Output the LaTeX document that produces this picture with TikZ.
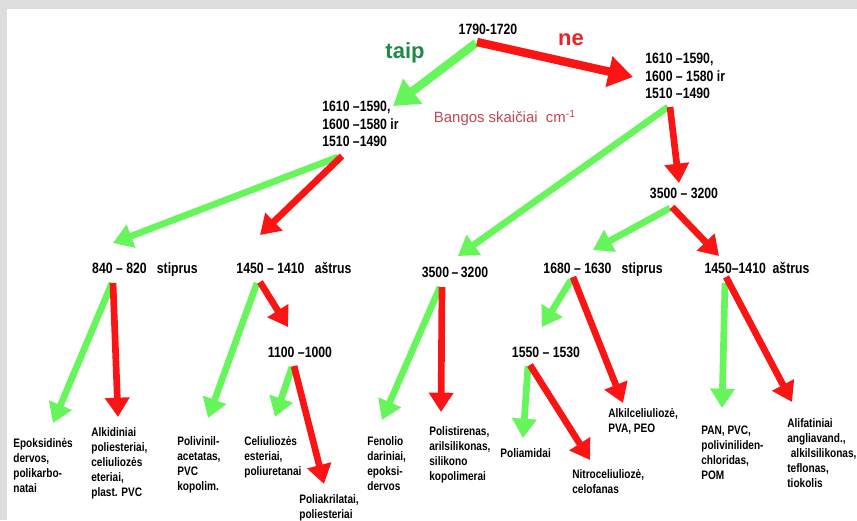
\documentclass[tikz,border=0pt]{standalone}
\usepackage{fontspec}
\setmainfont{Liberation Sans}
\newfontfamily\narrowsans[FakeStretch=0.82]{Liberation Sans}
\usetikzlibrary{arrows.meta,calc}

\definecolor{arrowgreen}{RGB}{102,245,90}
\definecolor{arrowred}{RGB}{250,20,20}
\definecolor{taipgreen}{RGB}{30,140,70}
\definecolor{nered}{RGB}{235,35,40}
\definecolor{bangosred}{RGB}{195,70,80}
\definecolor{framegray}{RGB}{221,221,221}

\tikzset{
  band/.style={font=\narrowsans\bfseries\fontsize{8.5}{10}\selectfont, inner sep=0pt, anchor=base},
  bandlist/.style={font=\narrowsans\bfseries\fontsize{8.5}{10}\selectfont, inner sep=0pt, anchor=north west, align=left},
  polymer/.style={font=\narrowsans\bfseries\fontsize{7}{8.5}\selectfont, inner sep=0pt, anchor=north west, align=left},
  yesarrow/.style={draw=arrowgreen, line width=3.8pt, -{Triangle[width=13.5pt,length=11pt]}},
  noarrow/.style={draw=arrowred, line width=3.8pt, -{Triangle[width=13.5pt,length=11pt]}},
  bigarrow/.style={line width=4.8pt, -{Triangle[width=17pt,length=14pt]}}
}

\begin{document}
\begin{tikzpicture}[x=0.02cm,y=-0.02cm]
    % frame
    \fill[framegray] (0,0) rectangle (857,520);
    \fill[white] (7,9) rectangle (857,520);

    % bands
    \node[band] (top) at (488,34) {1790-1720};
    \node[font=\bfseries\fontsize{12.5}{14}\selectfont, text=taipgreen, inner sep=0pt, anchor=base] (taip) at (405,58) {taip};
    \node[font=\bfseries\fontsize{12.5}{14}\selectfont, text=nered, inner sep=0pt, anchor=base] (ne) at (571,45) {ne};
    \node[bandlist] (left1610) at (322,101) {1610 –1590,\\1600 –1580 ir\\1510 –1490};
    \node[bandlist] (right1610) at (645,53) {1610 –1590,\\1600 – 1580 ir\\1510 –1490};
    \node[font=\fontsize{8.5}{10}\selectfont, text=bangosred, inner sep=0pt, anchor=base] (bangos) at (505,122) {Bangos skaičiai\ \ cm\textsuperscript{-1}};
    \node[band] (r840) at (145,273) {840 – 820\ \ \ stiprus};
    \node[band] (r1450a) at (294,273) {1450 – 1410\ \ \ aštrus};
    \node[band] (r3500a) at (455,277) {3500\,–\,3200};
    \node[band] (r3500b) at (684,198) {3500 – 3200};
    \node[band] (r1680) at (603,273) {1680 – 1630\ \ \ stiprus};
    \node[band] (r1450b) at (757,273) {1450–1410\ \ aštrus};
    \node[band] (r1550) at (546,357) {1550 – 1530};
    \node[band] (r1100) at (300,357) {1100 –1000};

    % polymers
    \node[polymer] (epox) at (13,438) {Epoksidinės\\dervos,\\polikarbo-\\natai};
    \node[polymer] (alkid) at (91,427) {Alkidiniai\\poliesteriai,\\celiuliozės\\eteriai,\\plast. PVC};
    \node[polymer] (poliv) at (177,436) {Polivinil-\\acetatas,\\PVC\\kopolim.};
    \node[polymer] (celes) at (244,436) {Celiuliozės\\esteriai,\\poliuretanai};
    \node[polymer] (poliakr) at (299,494) {Poliakrilatai,\\poliesteriai};
    \node[polymer] (fenol) at (367,436) {Fenolio\\dariniai,\\epoksi-\\dervos};
    \node[polymer] (polist) at (429,426) {Polistirenas,\\arilsilikonas,\\silikono\\kopolimerai};
    \node[polymer] (poliam) at (500,448) {Poliamidai};
    \node[polymer] (nitro) at (572,469) {Nitroceliuliozė,\\celofanas};
    \node[polymer] (alkilc) at (608,408) {Alkilceliuliozė,\\PVA, PEO};
    \node[polymer] (pan) at (701,426) {PAN, PVC,\\poliviniliden-\\chloridas,\\POM};
    \node[polymer] (alifat) at (787,418) {Alifatiniai\\angliavand.,\\\hspace{2pt}alkilsilikonas,\\teflonas,\\tiokolis};

    % arrows
    \draw[yesarrow, bigarrow] ($(top.base)+(-12,9)$) -- ($(left1610.north west)+(71,5)$);
    \draw[noarrow, bigarrow] ($(top.base)+(-11,8)$) -- ($(right1610.north west)+(-12,24)$);
    \draw[yesarrow] ($(left1610.north west)+(16,56)$) -- ($(r840.base)+(-32,-30)$);
    \draw[noarrow] ($(left1610.north west)+(20,55)$) -- ($(r1450a.base)+(-34,-38)$);
    \draw[yesarrow] ($(right1610.north west)+(23,54)$) -- ($(r3500a.base)+(3,-21)$);
    \draw[noarrow] ($(right1610.north west)+(25,54)$) -- ($(r3500b.base)+(-5,-15)$);
    \draw[yesarrow] ($(r3500b.base)+(-14,10)$) -- ($(r1680.base)+(-10,-23)$);
    \draw[noarrow] ($(r3500b.base)+(-12,9)$) -- ($(r1450b.base)+(-38,-17)$);

    \draw[yesarrow] ($(r840.base)+(-33,10)$) -- ($(epox.north west)+(40,-15)$);
    \draw[noarrow] ($(r840.base)+(-32,10)$) -- ($(alkid.north west)+(27,-10)$);
    \draw[yesarrow] ($(r1450a.base)+(-37,10)$) -- ($(poliv.north west)+(31,-18)$);
    \draw[noarrow] ($(r1450a.base)+(-34,9)$) -- ($(r1100.base)+(-12,-30)$);
    \draw[yesarrow] ($(r1100.base)+(-8,10)$) -- ($(celes.north west)+(31,-19)$);
    \draw[noarrow] ($(r1100.base)+(-6,9)$) -- ($(poliakr.north west)+(25,-10)$);
    \draw[yesarrow] ($(r3500a.base)+(-15,10)$) -- ($(fenol.north west)+(15,-16)$);
    \draw[noarrow] ($(r3500a.base)+(-13,10)$) -- ($(polist.north west)+(12,-14)$);
    \draw[yesarrow] ($(r1680.base)+(-32,7)$) -- ($(r1550.base)+(-4,-30)$);
    \draw[noarrow] ($(r1680.base)+(-30,4)$) -- ($(alkilc.north west)+(15,-5)$);
    \draw[yesarrow] ($(r1550.base)+(-18,9)$) -- ($(poliam.north west)+(23,-10)$);
    \draw[noarrow] ($(r1550.base)+(-16,8)$) -- ($(nitro.north west)+(18,-9)$);
    \draw[yesarrow] ($(r1450b.base)+(-32,10)$) -- ($(pan.north west)+(21,-18)$);
    \draw[noarrow] ($(r1450b.base)+(-31,4)$) -- ($(alifat.north west)+(5,-16)$);
\end{tikzpicture}
\end{document}
